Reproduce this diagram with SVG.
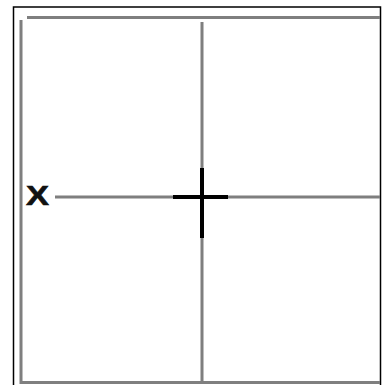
<svg xmlns="http://www.w3.org/2000/svg" width="382" height="385" viewBox="0 0 382 385">
<style>
.grid{stroke:#7f7f7f;stroke-width:3;fill:none}
.cross{stroke:#000;stroke-width:4;fill:none}
.lbl{font-family:"Liberation Sans",Arial,sans-serif;font-weight:bold;font-size:27px;fill:#111;stroke:#111;stroke-width:0.6}
</style>
<rect x="0" y="0" width="382" height="385" fill="#fff"/>
<rect x="13.5" y="7" width="367" height="380" fill="none" stroke="#000" stroke-width="1.5"/>
<g id="grid">
<line class="grid" x1="27" y1="17.5" x2="380" y2="17.5"/>
<line class="grid" x1="21" y1="20" x2="21" y2="384"/>
<line class="grid" x1="202" y1="22" x2="202" y2="383"/>
<line class="grid" x1="55" y1="197" x2="380" y2="197"/>
<line class="grid" x1="21" y1="382.5" x2="380" y2="382.5"/>
</g>
<g id="cross">
<line class="cross" x1="173" y1="197" x2="228" y2="197"/>
<line class="cross" x1="202" y1="168" x2="202" y2="238"/>
</g>
<g id="label-x">
<text class="lbl" x="26" y="205" textLength="23" lengthAdjust="spacingAndGlyphs">X</text>
</g>
</svg>
